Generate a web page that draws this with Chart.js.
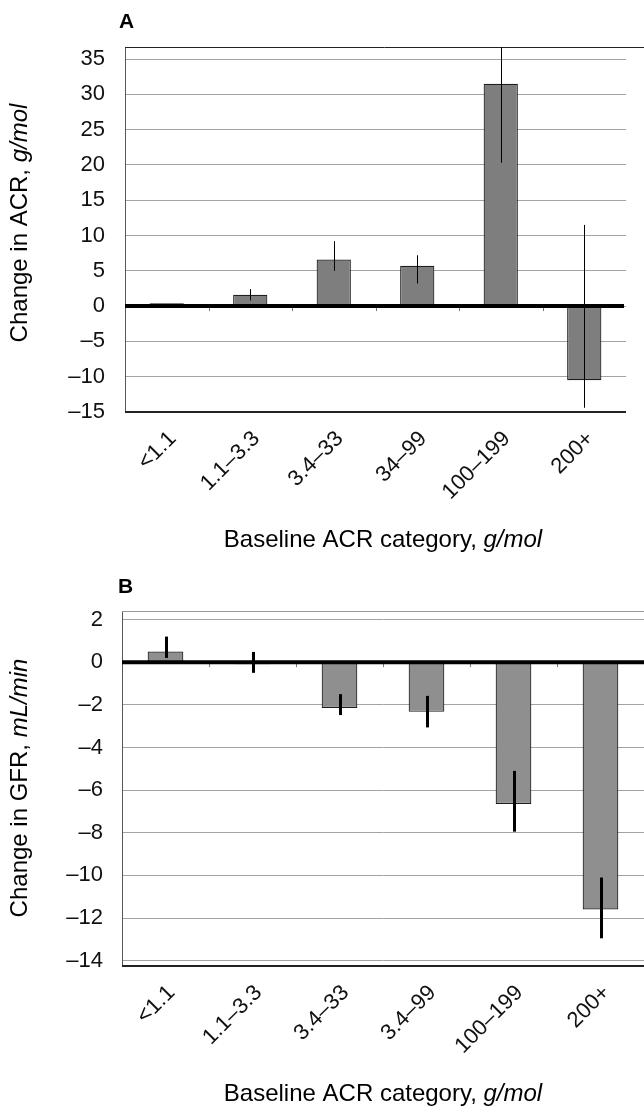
<!DOCTYPE html>
<html>
<head>
<meta charset="utf-8">
<script src="https://cdn.jsdelivr.net/npm/chart.js@4.4.0/dist/chart.umd.min.js"></script>
<style>
  body { margin: 0; background: #fff; width: 644px; height: 1107px; overflow: hidden; }
  .panel { position: absolute; left: 0; width: 644px; }
</style>
</head>
<body>
<div class="panel" style="top:0;height:560px"><canvas id="chartA"></canvas></div>
<div class="panel" style="top:560px;height:547px"><canvas id="chartB"></canvas></div>

<script>
/* ---------- data ---------- */
const categoriesA = ['<1.1', '1.1–3.3', '3.4–33', '34–99', '100–199', '200+'];
const categoriesB = ['<1.1', '1.1–3.3', '3.4–33', '3.4–99', '100–199', '200+'];

// A: change in ACR, g/mol
const acrChange  = [0.4, 1.6, 6.6, 5.7, 31.5, -10.5];
const acrErrLow  = [null, 0.8, 5.0, 3.2, 20.3, -14.4];
const acrErrHigh = [null, 2.4, 9.2, 7.2, 42.7, 11.5];
const acrTicks   = [-15, -10, -5, 0, 5, 10, 15, 20, 25, 30, 35];

// B: change in GFR, mL/min
const gfrChange  = [0.5, -0.1, -2.15, -2.33, -6.65, -11.6];
const gfrErrLow  = [0.2, -0.5, -2.48, -3.06, -7.95, -12.95];
const gfrErrHigh = [1.2, 0.48, -1.5, -1.58, -5.1, -10.1];
const gfrTicks   = [-14, -12, -10, -8, -6, -4, -2, 0, 2];

const FONT = "'Liberation Sans', Arial, Helvetica, sans-serif";
const dash = v => (v < 0 ? '\u2013' + Math.abs(v) : String(v));

/* ---------- frame, zero line, error bars, titles ---------- */
const panelDecor = {
    id: 'panelDecor',
    afterDatasetsDraw(chart, args, o) {
        const { ctx, chartArea: a, scales: { x, y } } = chart;
        const meta = chart.getDatasetMeta(0);
        const y0 = y.getPixelForValue(0);
        const step = x.getPixelForValue(1) - x.getPixelForValue(0);
        ctx.save();

        // top + bottom frame
        ctx.strokeStyle = o.topColor;
        ctx.lineWidth = 1;
        ctx.beginPath();
        ctx.moveTo(a.left, a.top + 0.5);
        ctx.lineTo(chart.width, a.top + 0.5);
        ctx.stroke();
        ctx.strokeStyle = '#222';
        ctx.lineWidth = 2;
        ctx.beginPath();
        ctx.moveTo(a.left, a.bottom);
        ctx.lineTo(a.right, a.bottom);
        ctx.stroke();

        // small category ticks under the zero line
        ctx.strokeStyle = '#777';
        ctx.lineWidth = 1;
        for (let i = 0; i < meta.data.length - 1; i++) {
            const px = Math.round(x.getPixelForValue(i) + step / 2) + 0.5;
            ctx.beginPath();
            ctx.moveTo(px, y0);
            ctx.lineTo(px, y0 + 5);
            ctx.stroke();
        }

        // heavy zero line
        ctx.strokeStyle = '#000';
        ctx.lineWidth = 4;
        ctx.beginPath();
        ctx.moveTo(a.left, y0);
        ctx.lineTo(a.right - o.zeroTrim, y0);
        ctx.stroke();

        // error bars
        ctx.beginPath();
        ctx.rect(a.left, a.top, a.right - a.left, a.bottom - a.top);
        ctx.clip();
        ctx.strokeStyle = '#000';
        ctx.lineWidth = o.errWidth;
        meta.data.forEach((bar, i) => {
            if (o.low[i] == null) return;
            const px = Math.round(bar.x) + (o.errWidth % 2 ? 0.5 : 0);
            ctx.beginPath();
            ctx.moveTo(px, y.getPixelForValue(o.high[i]));
            ctx.lineTo(px, y.getPixelForValue(o.low[i]));
            ctx.stroke();
        });
        ctx.restore();
    },
    afterDraw(chart, args, o) {
        const { ctx } = chart;
        ctx.save();
        ctx.fillStyle = '#000';
        ctx.textBaseline = 'alphabetic';

        // panel letter
        ctx.font = 'bold 21px ' + FONT;
        ctx.textAlign = 'left';
        ctx.fillText(o.letter, o.letterX, o.letterY);

        // title helper: regular part + italic unit
        const drawMixed = (plain, ital, cx, base) => {
            ctx.font = '24px ' + FONT;
            const w1 = ctx.measureText(plain).width;
            ctx.font = 'italic 24px ' + FONT;
            const w2 = ctx.measureText(ital).width;
            const start = cx - (w1 + w2) / 2;
            ctx.textAlign = 'left';
            ctx.font = '24px ' + FONT;
            ctx.fillText(plain, start, base);
            ctx.font = 'italic 24px ' + FONT;
            ctx.fillText(ital, start + w1, base);
        };

        drawMixed('Baseline ACR category, ', 'g/mol', o.xTitleX, o.xTitleY);

        ctx.translate(o.yTitleX, o.yTitleY);
        ctx.rotate(-Math.PI / 2);
        drawMixed(o.yPlain, o.yItal, 0, 0);
        ctx.restore();
    }
};

function makePanel(id, cfg) {
    return new Chart(document.getElementById(id), {
        type: 'bar',
        data: {
            labels: cfg.labels,
            datasets: [{
                data: cfg.values,
                backgroundColor: cfg.barColor,
                borderColor: '#1e1e1e',
                borderWidth: 1.2,
                borderSkipped: false,
                categoryPercentage: 1,
                barPercentage: 0.41
            }]
        },
        options: {
            responsive: true,
            maintainAspectRatio: false,
            animation: false,
            events: [],
            layout: { padding: { top: cfg.top, right: cfg.right, left: 0, bottom: 0 } },
            plugins: {
                legend: { display: false },
                tooltip: { enabled: false },
                panelDecor: cfg.decor
            },
            scales: {
                x: {
                    grid: { display: false },
                    border: { display: false },
                    ticks: {
                        autoSkip: false,
                        minRotation: 45,
                        maxRotation: 45,
                        padding: cfg.xPad,
                        labelOffset: 6,
                        color: '#111',
                        font: { family: FONT, size: 22 }
                    },
                    afterFit: s => { s.height = cfg.xHeight; }
                },
                y: {
                    min: cfg.min,
                    max: cfg.max,
                    afterBuildTicks: s => { s.ticks = cfg.ticks.map(v => ({ value: v })); },
                    grid: { drawTicks: false, color: '#a3a3a3', lineWidth: 1 },
                    border: { display: true, color: '#555', width: 1 },
                    ticks: {
                        padding: cfg.yPad,
                        color: '#111',
                        font: { family: FONT, size: 22 },
                        callback: v => dash(v)
                    },
                    afterFit: s => { s.width = cfg.yWidth; }
                }
            }
        },
        plugins: [panelDecor]
    });
}

makePanel('chartA', {
    labels: categoriesA, values: acrChange, barColor: '#7e7e7e',
    min: -15, max: 36.7, ticks: acrTicks,
    top: 47, right: 18, yWidth: 125, xHeight: 148, yPad: 20, xPad: 6,
    decor: {
        low: acrErrLow, high: acrErrHigh, errWidth: 1, zeroTrim: 2, topColor: '#222',
        letter: 'A', letterX: 119, letterY: 28,
        xTitleX: 383, xTitleY: 547,
        yTitleX: 27, yTitleY: 223, yPlain: 'Change in ACR, ', yItal: 'g/mol'
    }
});

makePanel('chartB', {
    labels: categoriesB, values: gfrChange, barColor: '#8f8f8f',
    min: -14.25, max: 2.4, ticks: gfrTicks,
    top: 51, right: 0, yWidth: 122, xHeight: 141, yPad: 19, xPad: 6,
    decor: {
        low: gfrErrLow, high: gfrErrHigh, errWidth: 3, zeroTrim: 0, topColor: '#999',
        letter: 'B', letterX: 118, letterY: 33,
        xTitleX: 383, xTitleY: 541,
        yTitleX: 27, yTitleY: 228, yPlain: 'Change in GFR, ', yItal: 'mL/min'
    }
});
</script>
</body>
</html>
